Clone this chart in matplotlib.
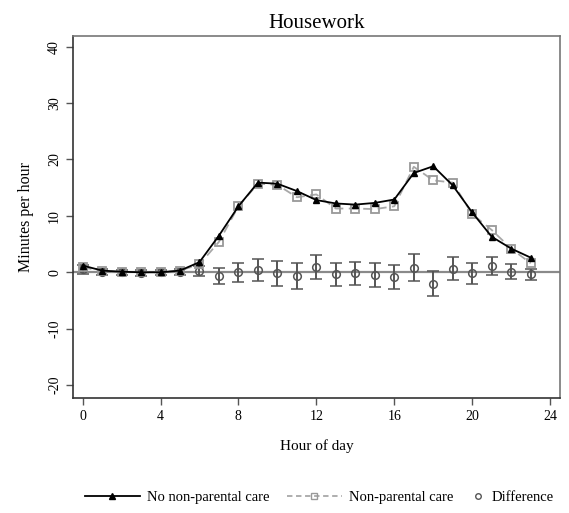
import matplotlib
matplotlib.use("Agg")
import matplotlib.pyplot as plt
from matplotlib.lines import Line2D

plt.rcParams['font.family'] = ['Liberation Serif', 'DejaVu Serif']

hours = list(range(24))

# minutes per hour spent on housework, by care arrangement
no_care = [1.2, 0.3, 0.1, 0.0, 0.0, 0.3, 1.8, 6.5, 11.7, 15.9, 15.7, 14.4,
           12.8, 12.2, 12.0, 12.3, 12.9, 17.6, 18.8, 15.4, 10.6, 6.3, 4.2, 2.6]
care = [0.9, 0.2, 0.1, 0.0, 0.0, 0.3, 1.4, 5.4, 11.7, 15.7, 15.5, 13.3,
        13.8, 11.3, 11.3, 11.2, 11.7, 18.7, 16.3, 15.9, 10.3, 7.5, 4.2, 1.6]

# estimated difference with its confidence half-width
diff = [0.5, 0.1, 0.0, -0.1, 0.0, 0.1, 0.3, -0.6, 0.0, 0.4, -0.2, -0.6,
        0.9, -0.35, -0.2, -0.5, -0.8, 0.8, -2.0, 0.65, -0.2, 1.1, 0.1, -0.35]
diff_err = [0.8, 0.5, 0.4, 0.5, 0.4, 0.5, 0.9, 1.4, 1.7, 2.0, 2.2, 2.3,
            2.1, 2.0, 2.0, 2.1, 2.1, 2.4, 2.2, 2.0, 1.9, 1.6, 1.3, 1.0]

x_ticks = [0, 4, 8, 12, 16, 20, 24]
y_ticks = [-20, -10, 0, 10, 20, 30, 40]

fig = plt.figure(figsize=(5.69, 5.13), dpi=100)
ax = fig.add_axes([0.128, 0.224, 0.856, 0.706])

ax.axhline(0, color='#8a8a8a', lw=1.6, zorder=1)

ax.errorbar(hours, diff, yerr=diff_err, fmt='o', ms=5.5, mfc='none',
            mec='#555555', mew=1.1, ecolor='#555555', elinewidth=1.4,
            capsize=4, capthick=1.4, zorder=2)

ax.plot(hours, care, color='#a8a8a8', lw=1.3, ls=(0, (5, 3)),
        marker='s', ms=6, mfc='none', mec='#999999', mew=1.3, zorder=3)
ax.plot(hours, no_care, color='black', lw=1.3,
        marker='^', ms=4.5, mfc='black', mec='black', zorder=4)

ax.set_xlim(-0.5, 24.5)
ax.set_ylim(-22.3, 41.9)
ax.set_xticks(x_ticks)
ax.set_yticks(y_ticks)
ax.set_yticklabels([str(v) for v in y_ticks], rotation=90, va='center')
ax.tick_params(labelsize=10, length=5, width=1, color='#555555', direction='out')

for side in ['top', 'right']:
    ax.spines[side].set_color('#777777')
for side in ['left', 'bottom']:
    ax.spines[side].set_color('#333333')
for sp in ax.spines.values():
    sp.set_linewidth(1.2)

ax.set_title('Housework', fontsize=15, pad=6)
ax.set_xlabel('Hour of day', fontsize=11, labelpad=12)
ax.set_ylabel('Minutes per hour', fontsize=11.5, labelpad=10)

# the two lines share one legend, the marker-only entry gets a short handle
line_handles = [
    Line2D([], [], color='black', lw=1.3, marker='^', ms=4.5),
    Line2D([], [], color='#a8a8a8', lw=1.3, ls=(0, (3, 2)), marker='s', ms=5,
           mfc='none', mec='#999999'),
]
fig.legend(line_handles, ['No non-parental care', 'Non-parental care'],
           loc='center left', bbox_to_anchor=(0.149, 0.031), ncol=2,
           frameon=False, fontsize=10.5, handlelength=3.8,
           columnspacing=1.2, handletextpad=0.45,
           borderpad=0, borderaxespad=0)
dot = Line2D([], [], ls='none', marker='o', ms=4, mfc='none', mec='#555555')
fig.legend([dot], ['Difference'], loc='center left',
           bbox_to_anchor=(0.827, 0.031), frameon=False, fontsize=10.5,
           handlelength=1.0, handletextpad=0.45, borderpad=0, borderaxespad=0)

fig.savefig('out.png', dpi=100)
